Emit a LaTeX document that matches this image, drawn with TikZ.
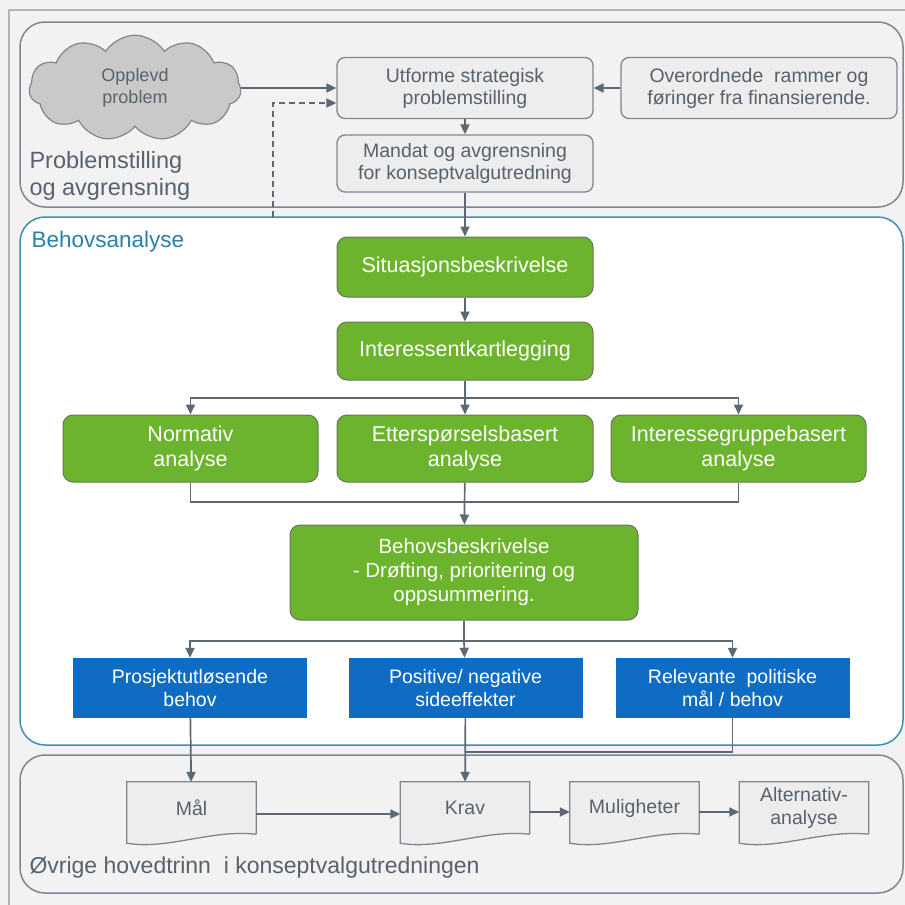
\documentclass[tikz,border=0pt]{standalone}
\usepackage{fontspec}
\setmainfont{Liberation Sans}
\definecolor{kvbg}{HTML}{F2F2F2}
\definecolor{kvframe}{HTML}{B4B4B4}
\definecolor{kvline}{HTML}{5E6873}
\definecolor{kvbox}{HTML}{EDEDED}
\definecolor{kvborder}{HTML}{7C8792}
\definecolor{kvtext}{HTML}{58626D}
\definecolor{kvgreen}{HTML}{6CB42D}
\definecolor{kvgreenb}{HTML}{66765C}
\definecolor{kvblue}{HTML}{0F6CC4}
\definecolor{kvteal}{HTML}{3A90B5}
\definecolor{kvtealtxt}{HTML}{2C7FA6}
\definecolor{kvcloud}{HTML}{C9C9C9}
\usetikzlibrary{arrows.meta,positioning,shapes.symbols,calc}

\begin{document}
\begin{tikzpicture}[x=1pt,y=-1pt,
    arr/.style={-{Triangle[length=10pt,width=9pt]}, kvline, line width=1.7pt},
    link/.style={kvline, line width=1.7pt},
    graybox/.style={draw=kvborder, fill=kvbox, line width=1.3pt, rounded corners=8pt,
      text=kvtext, font=\fontsize{19.5}{22}\selectfont, align=center, inner sep=2pt},
    greenbox/.style={draw=kvgreenb, fill=kvgreen, line width=1pt, rounded corners=10pt,
      text=white, font=\fontsize{21.5}{25}\selectfont, align=center, inner sep=2pt},
    bluebox/.style={fill=kvblue, text=white, font=\fontsize{19.5}{23}\selectfont,
      align=center, inner sep=2pt, minimum width=234, minimum height=60},
    docbox/.style={text=kvtext, font=\fontsize{19.5}{23}\selectfont, align=center,
      inner sep=2pt, minimum width=129, minimum height=52},
    region/.style={line width=1.5pt, rounded corners=25pt}]
  \useasboundingbox (0,0) rectangle (905,905);

  % Background and frame
  \fill[kvbg] (0,0) rectangle (905,905);
  \draw[kvframe, line width=1.2pt] (9,905) |- (905,10);

  % Regions
  \draw[region, draw=kvborder, fill=kvbg] (20,22) rectangle (903,207);
  \draw[region, draw=kvteal, fill=white] (20,217) rectangle (903,745);
  \draw[region, draw=kvborder, fill=kvbg] (20,755) rectangle (903,893);

  \node[anchor=west, align=left, text=kvtext, font=\fontsize{23.5}{27}\selectfont] (lblproblem) at (26,176) {Problemstilling\\og avgrensning};
  \node[anchor=west, text=kvtealtxt, font=\fontsize{22.5}{26}\selectfont] (lblbehov) at (28,242) {Behovsanalyse};
  \node[anchor=west, text=kvtext, font=\fontsize{23}{27}\selectfont] (lblovrige) at (26,868) {Øvrige hovedtrinn~~i konseptvalgutredningen};

  % Problemstilling
  \node[cloud, cloud puffs=11, cloud puff arc=115, draw=kvborder, fill=kvcloud, line width=1.2pt,
    minimum width=212, minimum height=90, inner sep=0pt, text=kvtext, align=center,
    font=\fontsize{18}{22}\selectfont] (cloud) at (135,88) {Opplevd\\problem};
  \node[graybox, minimum width=256, minimum height=61] (utforme) at (465,88) {Utforme strategisk\\problemstilling};
  \node[graybox, minimum width=276, minimum height=61] (rammer) at (759,88) {Overordnede~~rammer og\\føringer fra finansierende.};
  \node[graybox, minimum width=256, minimum height=57] (mandat) at (465,163.5) {Mandat og avgrensning\\for konseptvalgutredning};

  % Behovsanalyse
  \node[greenbox, minimum width=256, minimum height=60] (situasjon) at (465,267) {Situasjonsbeskrivelse};
  \node[greenbox, minimum width=256, minimum height=58] (interessent) at (465,351) {Interessentkartlegging};
  \node[greenbox, minimum width=255, minimum height=67] (normativ) at (190.5,448.5) {Normativ\\analyse};
  \node[greenbox, minimum width=256, minimum height=67] (ettersp) at (465,448.5) {Etterspørselsbasert\\analyse};
  \node[greenbox, minimum width=255, minimum height=67] (intgruppe) at (738.5,448.5) {Interessegruppebasert\\analyse};
  \node[greenbox, minimum width=348, minimum height=95, font=\fontsize{20.5}{24}\selectfont] (behovbeskr) at (464,572.5) {Behovsbeskrivelse\\- Drøfting, prioritering og\\oppsummering.};
  \node[bluebox] (prosjekt) at (190,688) {Prosjektutløsende\\behov};
  \node[bluebox] (sideeff) at (465.5,688) {Positive/ negative\\sideeffekter};
  \node[bluebox] (politisk) at (732.5,688) {Relevante~~politiske\\mål / behov};

  % Hovedtrinn
  \node[docbox] (maal) at (191.5,808) {Mål};
  \node[docbox] (krav) at (465,808) {Krav};
  \node[docbox] (muligheter) at (634.5,808) {Muligheter};
  \node[docbox] (alternativ) at (804,808) {Alternativ-\\analyse};
  \foreach \d in {maal,krav,muligheter,alternativ}
    \draw[kvborder, fill=kvbox, line width=1.3pt] (\d.south east) -- (\d.north east) -- (\d.north west)
      -- ([yshift=-9pt]\d.south west)
      .. controls ([xshift=40pt,yshift=-16pt]\d.south west) and ([xshift=-45pt,yshift=5pt]\d.south east) .. (\d.south east);
  \node[docbox] at (maal) {Mål};
  \node[docbox] at (krav) {Krav};
  \node[docbox] at (muligheter) {Muligheter};
  \node[docbox] at (alternativ) {Alternativ-\\analyse};

  % Connectors
  \coordinate (feedback) at (273,217);
  \coordinate (split1) at (465,398);
  \coordinate (merge1) at (465,502);
  \coordinate (split2) at (464,641);
  \coordinate (join1) at (465,752);

  \draw[arr] (cloud.east) -- (utforme.west);
  \draw[arr, dash pattern=on 6pt off 4pt] (feedback) |- ([yshift=-15pt]utforme.west);
  \draw[arr] (rammer) -- (utforme);
  \draw[arr] (utforme) -- (mandat);
  \draw[arr] (mandat) -- (situasjon);
  \draw[arr] (situasjon) -- (interessent);
  \draw[link] (interessent) -- (split1);
  \draw[arr] (split1) -| (normativ);
  \draw[arr] (split1) -- (ettersp);
  \draw[arr] (split1) -| (intgruppe);
  \draw[link] (normativ) |- (merge1) -| (intgruppe);
  \draw[arr] (ettersp) -- (behovbeskr);
  \draw[link] (behovbeskr) -- (split2);
  \draw[arr] (split2) -| (prosjekt);
  \draw[arr] (split2) -- (sideeff);
  \draw[arr] (split2) -| (politisk);
  \draw[arr] (prosjekt) -- (maal);
  \draw[arr] (sideeff) -- (krav);
  \draw[link] (politisk) |- (join1);
  \draw[arr] ([yshift=-6pt]maal.east) -- ([yshift=-6pt]krav.west);
  \draw[arr] ([yshift=-4pt]krav.east) -- ([yshift=-4pt]muligheter.west);
  \draw[arr] ([yshift=-4pt]muligheter.east) -- ([yshift=-4pt]alternativ.west);
\end{tikzpicture}
\end{document}
